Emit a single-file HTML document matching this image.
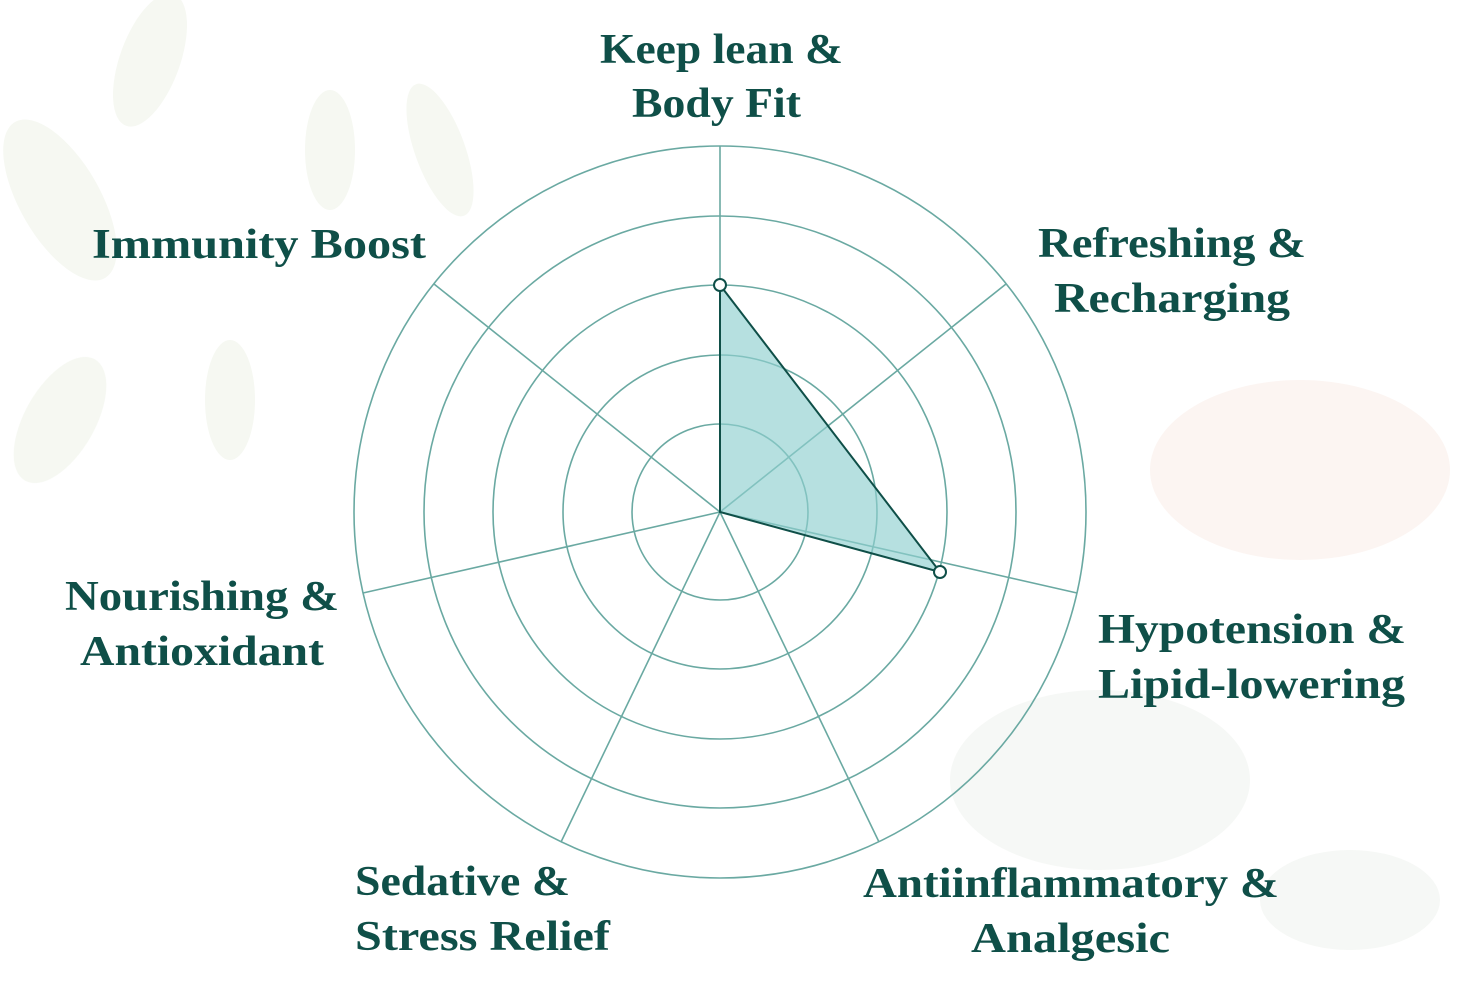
<!DOCTYPE html>
<html><head><style>
html,body{margin:0;padding:0;background:#fff;}
svg{display:block}
text{font-family:"Liberation Serif",serif;font-weight:bold;font-size:42px;fill:#0f4f48;}
</style></head><body>
<svg width="1470" height="1006" viewBox="0 0 1470 1006">
<g opacity="0.3">
<ellipse cx="60" cy="200" rx="40" ry="90" fill="#dfe8d2" transform="rotate(-30 60 200)"/>
<ellipse cx="150" cy="60" rx="30" ry="70" fill="#dfe8d2" transform="rotate(20 150 60)"/>
<ellipse cx="330" cy="150" rx="25" ry="60" fill="#dfe8d2"/>
<ellipse cx="440" cy="150" rx="25" ry="70" fill="#dfe8d2" transform="rotate(-20 440 150)"/>
<ellipse cx="60" cy="420" rx="35" ry="70" fill="#dfe8d2" transform="rotate(30 60 420)"/>
<ellipse cx="230" cy="400" rx="25" ry="60" fill="#dfe8d2"/>
<ellipse cx="1300" cy="470" rx="150" ry="90" fill="#f6dcd3"/>
<ellipse cx="1100" cy="780" rx="150" ry="90" fill="#e1e8df"/>
<ellipse cx="1350" cy="900" rx="90" ry="50" fill="#e1e8df"/>
</g>
<g fill="none" stroke="#6aa9a2" stroke-width="1.6">
<circle cx="720" cy="512" r="88"/>
<circle cx="720" cy="512" r="157"/>
<circle cx="720" cy="512" r="227"/>
<circle cx="720" cy="512" r="296"/>
<circle cx="720" cy="512" r="366"/>
<line x1="720" y1="512" x2="720" y2="146"/>
<line x1="720" y1="512" x2="1006" y2="284"/>
<line x1="720" y1="512" x2="1077" y2="593"/>
<line x1="720" y1="512" x2="879" y2="842"/>
<line x1="720" y1="512" x2="561" y2="842"/>
<line x1="720" y1="512" x2="363" y2="593"/>
<line x1="720" y1="512" x2="434" y2="284"/>
</g>
<polygon points="720,285 940,572 720,512" fill="#8fcfcf" fill-opacity="0.65" stroke="#0f4f48" stroke-width="2"/>
<circle cx="720" cy="285" r="6" fill="#fff" stroke="#0f4f48" stroke-width="2"/>
<circle cx="940" cy="572" r="6" fill="#fff" stroke="#0f4f48" stroke-width="2"/>
<g lengthAdjust="spacingAndGlyphs">
<text x="600" y="63" textLength="243" lengthAdjust="spacingAndGlyphs">Keep lean &amp;</text>
<text x="632" y="117" textLength="169" lengthAdjust="spacingAndGlyphs">Body Fit</text>
<text x="92" y="258" textLength="334" lengthAdjust="spacingAndGlyphs">Immunity Boost</text>
<text x="1038" y="257" textLength="268" lengthAdjust="spacingAndGlyphs">Refreshing &amp;</text>
<text x="1054" y="312" textLength="236" lengthAdjust="spacingAndGlyphs">Recharging</text>
<text x="65" y="610" textLength="274" lengthAdjust="spacingAndGlyphs">Nourishing &amp;</text>
<text x="80" y="665" textLength="244" lengthAdjust="spacingAndGlyphs">Antioxidant</text>
<text x="1098" y="643" textLength="308" lengthAdjust="spacingAndGlyphs">Hypotension &amp;</text>
<text x="1098" y="698" textLength="307" lengthAdjust="spacingAndGlyphs">Lipid-lowering</text>
<text x="355" y="895" textLength="215" lengthAdjust="spacingAndGlyphs">Sedative &amp;</text>
<text x="355" y="950" textLength="255" lengthAdjust="spacingAndGlyphs">Stress Relief</text>
<text x="863" y="897" textLength="416" lengthAdjust="spacingAndGlyphs">Antiinflammatory &amp;</text>
<text x="971" y="952" textLength="199" lengthAdjust="spacingAndGlyphs">Analgesic</text>
</g>
</svg>
</body></html>
